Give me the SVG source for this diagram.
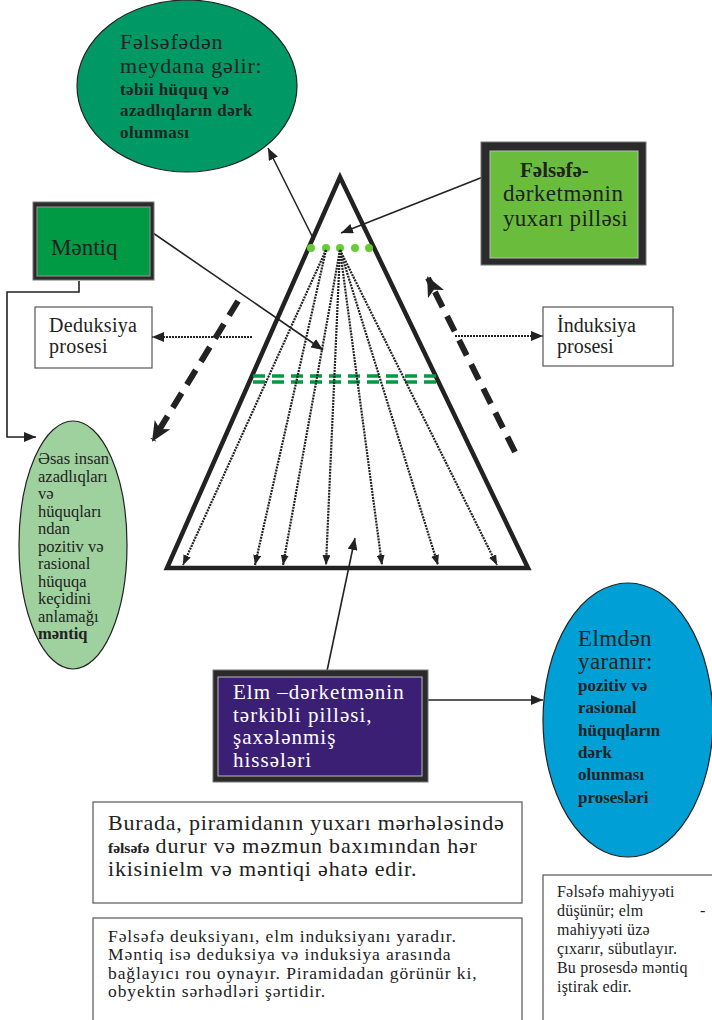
<svg xmlns="http://www.w3.org/2000/svg" width="712" height="1020" viewBox="0 0 712 1020">
<defs>
<style>
text{font-family:"Liberation Serif","Times New Roman",serif;fill:#222}
.b{font-weight:bold}
.w{fill:#fff}
.box{fill:#fff;stroke:#555;stroke-width:1.2}
.frame{fill:#2b2b2b;stroke:#777;stroke-width:1}
.ln{fill:none;stroke:#222;stroke-width:1.6}
.dot{fill:none;stroke:#222;stroke-width:2.2;stroke-dasharray:2 1}
.big{fill:none;stroke:#222;stroke-width:6;stroke-dasharray:17 10}
.gd{fill:none;stroke:#009944;stroke-width:3.5;stroke-dasharray:12 7}
</style>
<marker id="ah" markerUnits="userSpaceOnUse" markerWidth="12" markerHeight="10" refX="12" refY="5" orient="auto"><path d="M0,0 L12,5 L0,10 z" fill="#222"/></marker>
<marker id="ahs" markerUnits="userSpaceOnUse" markerWidth="10" markerHeight="8" refX="10" refY="4" orient="auto"><path d="M0,0 L10,4 L0,8 z" fill="#222"/></marker>
<marker id="ahb" markerUnits="userSpaceOnUse" markerWidth="20" markerHeight="18" refX="18" refY="9" orient="auto"><path d="M0,0 L20,9 L0,18 L5,9 z" fill="#222"/></marker>
</defs>

<g id="pyramid">
<polygon points="340,177 167,568 528,568" fill="none" stroke="#222" stroke-width="4.5"/>
<g fill="#66cc33">
<circle cx="311" cy="248" r="4"/><circle cx="326" cy="248" r="4"/><circle cx="340" cy="248" r="4"/><circle cx="355" cy="248" r="4"/><circle cx="369" cy="248" r="4"/>
</g>
<line class="gd" x1="253" y1="376" x2="440" y2="376"/>
<line class="gd" x1="253" y1="382" x2="440" y2="382"/>
</g>

<g id="connectors">
<g class="dot">
<line x1="326" y1="250" x2="183" y2="565" marker-end="url(#ahs)"/>
<line x1="326" y1="250" x2="255" y2="565" marker-end="url(#ahs)"/>
<line x1="340" y1="250" x2="283" y2="565" marker-end="url(#ahs)"/>
<line x1="340" y1="250" x2="326" y2="565" marker-end="url(#ahs)"/>
<line x1="340" y1="250" x2="382" y2="565" marker-end="url(#ahs)"/>
<line x1="340" y1="250" x2="438" y2="565" marker-end="url(#ahs)"/>
<line x1="340" y1="250" x2="497" y2="565" marker-end="url(#ahs)"/>
</g>
<line class="dot" x1="252" y1="337" x2="152" y2="337" stroke-width="3" marker-end="url(#ah)"/>
<line class="dot" x1="455" y1="336" x2="543" y2="336" stroke-width="3" marker-end="url(#ah)"/>
<line class="big" x1="238" y1="301" x2="153" y2="440" marker-end="url(#ahb)"/>
<line class="big" x1="515" y1="452" x2="428" y2="278" marker-end="url(#ahb)"/>
<line class="ln" x1="314" y1="240" x2="268" y2="148" marker-end="url(#ah)"/>
<line class="ln" x1="483" y1="177" x2="341" y2="233" marker-end="url(#ah)"/>
<line class="ln" x1="153" y1="233" x2="323" y2="350" marker-end="url(#ah)"/>
<polyline class="ln" points="79,281 79,292 7,292 7,437 36,437" stroke-width="1.3" marker-end="url(#ah)"/>
<line class="ln" x1="327" y1="671" x2="355" y2="538" stroke-width="2.2" marker-end="url(#ah)"/>
<line class="ln" x1="428" y1="700" x2="543" y2="700" marker-end="url(#ah)"/>
</g>

<g id="philosophy-ellipse">
<ellipse cx="187" cy="86" rx="110" ry="86" fill="#009966" stroke="#222" stroke-width="1.2"/>
<text x="120" y="49" font-size="22" letter-spacing="0.8">Fəlsəfədən</text>
<text x="120" y="73" font-size="22" letter-spacing="0.8">meydana gəlir:</text>
<g font-size="17" letter-spacing="0.4">
<text x="120" y="95" class="b">təbii hüquq və</text>
<text x="120" y="116" class="b">azadlıqların dərk</text>
<text x="120" y="138" class="b">olunması</text>
</g>
</g>

<g id="philosophy-box">
<rect class="frame" x="481" y="142" width="165" height="123"/>
<rect x="490" y="151" width="148" height="107" fill="#6abd3c" stroke="#bbb" stroke-width="1"/>
<text x="520" y="177" font-size="21" class="b">Fəlsəfə-</text>
<text x="503" y="201" font-size="23" letter-spacing="0.5">dərketmənin</text>
<text x="503" y="226" font-size="23" letter-spacing="0.3">yuxarı pilləsi</text>
</g>

<g id="logic-box">
<rect class="frame" x="33" y="202" width="121" height="78"/>
<rect x="37" y="207" width="113" height="69" fill="#009944" stroke="#999" stroke-width="1"/>
<text x="51" y="255" font-size="23">Məntiq</text>
</g>

<g id="deduction">
<rect class="box" x="35" y="307" width="117" height="61"/>
<text x="49" y="332" font-size="20" letter-spacing="0.3">Deduksiya</text>
<text x="49" y="353" font-size="20" letter-spacing="0.3">prosesi</text>
</g>

<g id="induction">
<rect class="box" x="543" y="307" width="130" height="59"/>
<text x="557" y="332" font-size="20">İnduksiya</text>
<text x="557" y="353" font-size="20">prosesi</text>
</g>

<g id="logic-ellipse">
<ellipse cx="73" cy="545" rx="54" ry="124" fill="#9fd19f" stroke="#222" stroke-width="1.2"/>
<g font-size="16.5">
<text x="38" y="464">Əsas insan</text>
<text x="38" y="481.5">azadlıqları</text>
<text x="38" y="499">və</text>
<text x="38" y="516.5">hüquqları</text>
<text x="38" y="534">ndan</text>
<text x="38" y="551.5">pozitiv və</text>
<text x="38" y="569">rasional</text>
<text x="38" y="586.5">hüquqa</text>
<text x="38" y="604">keçidini</text>
<text x="38" y="621.5">anlamağı</text>
<text x="38" y="639" class="b">məntiq</text>
</g>
</g>

<g id="science-box">
<rect class="frame" x="213" y="670" width="215" height="112"/>
<rect x="218" y="677" width="204" height="99" fill="#3b1f74" stroke="#bbb" stroke-width="1"/>
<g font-size="21" letter-spacing="1">
<text class="w" x="233" y="699">Elm –dərketmənin</text>
<text class="w" x="233" y="721.5">tərkibli  pilləsi,</text>
<text class="w" x="233" y="744">şaxələnmiş</text>
<text class="w" x="233" y="766.5">hissələri</text>
</g>
</g>

<g id="science-ellipse">
<ellipse cx="628" cy="720" rx="85" ry="137" fill="#009fd6" stroke="#222" stroke-width="1.2"/>
<text x="578" y="646" font-size="23" letter-spacing="0.4">Elmdən</text>
<text x="578" y="669" font-size="23" letter-spacing="0.4">yaranır:</text>
<g font-size="17">
<text x="578" y="691" class="b">pozitiv və</text>
<text x="578" y="713" class="b">rasional</text>
<text x="578" y="736" class="b">hüquqların</text>
<text x="578" y="758" class="b">dərk</text>
<text x="578" y="780" class="b">olunması</text>
<text x="578" y="803" class="b">prosesləri</text>
</g>
</g>

<g id="note-1">
<rect class="box" x="93" y="802" width="429" height="101"/>
<g font-size="22" letter-spacing="0.8">
<text x="108" y="830">Burada, piramidanın  yuxarı mərhələsində</text>
<text x="108" y="853"><tspan class="b" font-size="15.5" letter-spacing="0">fəlsəfə</tspan> durur və məzmun baxımından hər</text>
<text x="108" y="876">ikisinielm və məntiqi əhatə edir.</text>
</g>
</g>

<g id="note-2">
<rect class="box" x="93" y="918" width="429" height="110"/>
<g font-size="17.5" letter-spacing="0.9">
<text x="108" y="942">Fəlsəfə deuksiyanı, elm induksiyanı yaradır.</text>
<text x="108" y="960">Məntiq isə deduksiya və induksiya arasında</text>
<text x="108" y="979">bağlayıcı rou oynayır. Piramidadan görünür ki,</text>
<text x="108" y="997">obyektin  sərhədləri  şərtidir.</text>
</g>
</g>

<g id="note-3">
<rect class="box" x="543" y="875" width="180" height="160"/>
<g font-size="16" letter-spacing="0.2">
<text x="557" y="897">Fəlsəfə mahiyyəti</text>
<text x="557" y="916">düşünür; elm</text>
<text x="700" y="916">-</text>
<text x="557" y="935">mahiyyəti üzə</text>
<text x="557" y="954">çıxarır, sübutlayır.</text>
<text x="557" y="973">Bu prosesdə məntiq</text>
<text x="557" y="992">iştirak edir.</text>
</g>
</g>
</svg>
